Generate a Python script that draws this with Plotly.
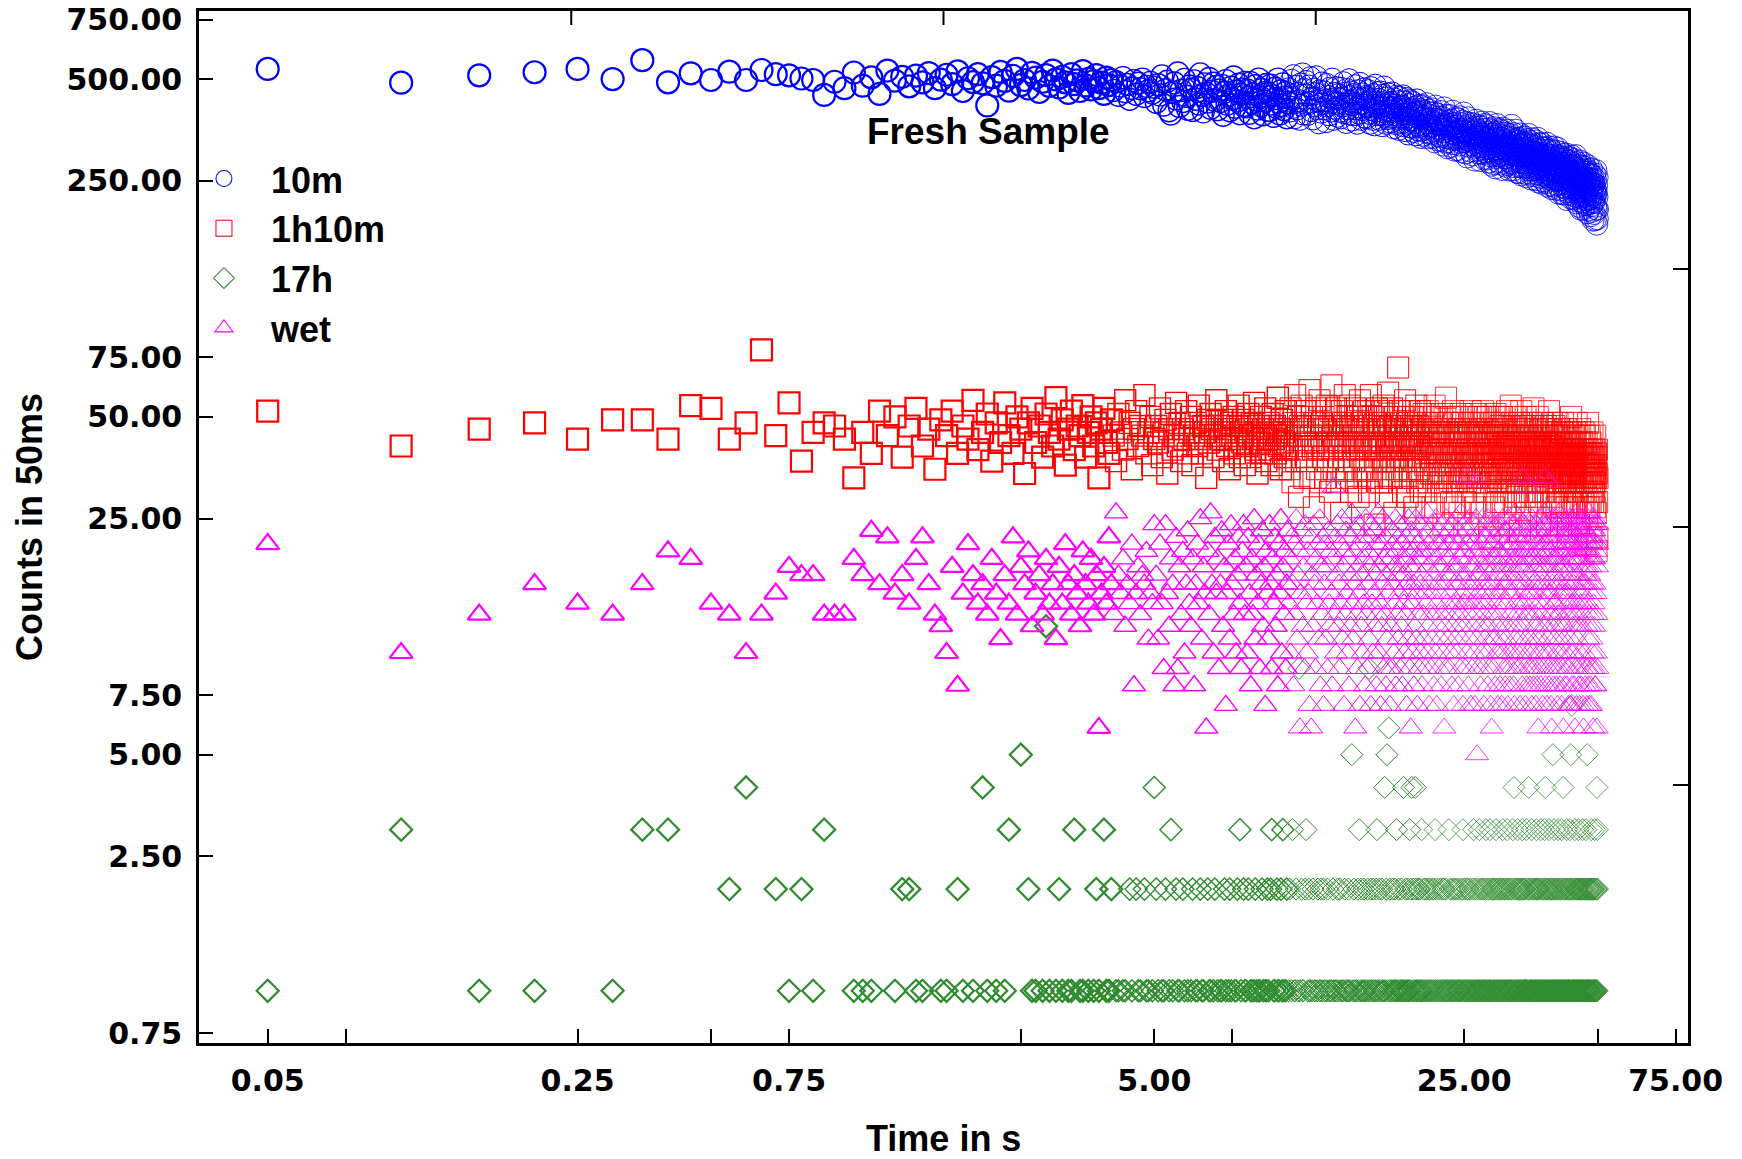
import plotly.graph_objects as go

# ---------------- data ----------------
TIME_STEP_S = 0.05  # counts are binned in 50 ms, first bin at 0.05 s

SERIES_NAMES = ["10m", "1h10m", "17h", "wet"]

COUNTS_10M = [
    536, 488, 513, 524, 536, 500, 569, 489, 520, 497, 526, 497, 532, 517, 513, 502, 497, 449, 491, 470,
    523, 478, 506, 452, 530, 495, 508, 476, 512, 489, 521, 470, 498, 515, 483, 527, 461, 503, 490, 517,
    486, 418, 507, 478, 525, 494, 462, 511, 536, 480, 497, 469, 522, 505, 458, 491, 514, 477, 530, 499,
    472, 508, 489, 455, 517, 483, 496, 461, 528, 479, 501, 466, 493, 514, 470, 488, 452, 505, 480, 497,
    463, 491, 448, 477, 505, 459, 482, 436, 470, 495, 451, 486, 468, 500, 444, 476, 462, 489, 455, 473,
    427, 481, 449, 511, 419, 465, 493, 403, 394, 457, 487, 437, 521, 415, 463, 429, 499, 445, 407, 477,
    466, 404, 494, 436, 472, 422, 518, 448, 400, 484, 454, 428, 502, 410, 460, 486, 432, 476, 406, 464,
    429, 479, 391, 457, 495, 421, 447, 403, 473, 437, 507, 413, 461, 431, 483, 395, 451, 467, 417, 489,
    414, 464, 442, 396, 488, 426, 452, 384, 478, 434, 408, 500, 444, 418, 466, 392, 456, 430, 482, 404,
    454, 404, 480, 422, 446, 388, 470, 438, 412, 500, 428, 394, 462, 418, 484, 406, 442, 456, 384, 426,
    468, 402, 438, 496, 412, 512, 384, 426, 476, 408, 454, 432, 380, 484, 418, 518, 394, 466, 424, 492,
    449, 393, 477, 427, 505, 403, 439, 381, 467, 417, 453, 508, 409, 431, 371, 461, 435, 399, 487, 423,
    408, 458, 432, 374, 482, 416, 444, 392, 470, 426, 402, 500, 436, 380, 454, 410, 472, 424, 388, 450,
    436, 402, 470, 384, 440, 416, 488, 398, 454, 422, 372, 466, 408, 444, 498, 394, 430, 458, 378, 420,
    450, 392, 424, 478, 408, 440, 370, 462, 414, 396, 486, 422, 380, 452, 406, 436, 468, 386, 418, 444,
    384, 440, 414, 462, 396, 428, 370, 472, 406, 434, 380, 450, 418, 366, 480, 402, 426, 392, 456, 412,
    436, 380, 414, 458, 392, 426, 364, 448, 400, 474, 388, 418, 370, 440, 406, 382, 452, 394, 424, 412,
    373, 427, 401, 455, 385, 411, 359, 437, 393, 419, 369, 445, 403, 381, 429, 355, 407, 441, 387, 413,
    416, 372, 402, 446, 364, 394, 428, 352, 408, 382, 438, 370, 398, 344, 420, 386, 362, 432, 378, 404,
    360, 408, 378, 426, 350, 396, 372, 414, 342, 388, 434, 366, 400, 354, 384, 418, 362, 392, 336, 406,
    401, 353, 383, 417, 341, 387, 365, 411, 349, 379, 423, 357, 393, 335, 371, 405, 347, 381, 363, 397,
    344, 390, 362, 408, 336, 374, 352, 398, 326, 370, 416, 348, 380, 358, 394, 330, 366, 386, 340, 376,
    379, 337, 367, 401, 329, 355, 385, 319, 363, 349, 411, 341, 371, 325, 357, 391, 335, 365, 313, 375,
    368, 326, 360, 390, 338, 352, 316, 378, 346, 332, 402, 358, 322, 370, 344, 308, 362, 384, 334, 350,
    331, 363, 309, 353, 381, 337, 349, 319, 387, 343, 325, 369, 305, 355, 339, 375, 327, 351, 397, 333,
    360, 326, 350, 302, 372, 336, 346, 294, 364, 330, 384, 340, 316, 354, 328, 370, 306, 348, 334, 358,
    320, 350, 298, 342, 368, 324, 338, 288, 360, 332, 314, 378, 336, 308, 354, 326, 364, 302, 344, 318,
    349, 315, 339, 287, 361, 325, 345, 301, 373, 329, 311, 355, 335, 291, 343, 321, 367, 305, 337, 317,
    348, 302, 332, 364, 290, 336, 312, 356, 284, 328, 372, 306, 342, 296, 320, 352, 278, 334, 310, 344,
    315, 345, 281, 331, 359, 299, 323, 273, 349, 309, 335, 293, 367, 317, 303, 339, 285, 327, 355, 297,
    342, 296, 326, 280, 318, 352, 306, 334, 270, 320, 300, 358, 312, 284, 330, 346, 292, 316, 338, 276,
    293, 329, 315, 345, 279, 307, 353, 287, 321, 299, 337, 269, 313, 343, 301, 325, 283, 317, 305, 365,
    323, 281, 335, 299, 269, 317, 345, 291, 311, 329, 275, 303, 353, 285, 315, 297, 333, 265, 309, 327,
    290, 320, 276, 334, 306, 264, 298, 328, 284, 344, 312, 292, 260, 318, 296, 336, 274, 310, 324, 282,
    321, 275, 307, 289, 337, 263, 299, 325, 283, 313, 257, 295, 331, 279, 305, 273, 319, 291, 343, 269,
    275, 309, 297, 263, 327, 285, 305, 253, 319, 291, 269, 333, 281, 301, 259, 313, 287, 277, 321, 303,
    304, 270, 316, 282, 252, 298, 328, 274, 292, 262, 310, 286, 334, 278, 248, 300, 272, 322, 290, 266,
    270, 302, 256, 292, 314, 280, 246, 298, 274, 322, 288, 260, 308, 278, 296, 250, 286, 312, 268, 294,
    301, 263, 289, 247, 313, 277, 293, 257, 323, 271, 285, 241, 307, 281, 261, 297, 269, 315, 253, 287,
    261, 291, 243, 281, 309, 265, 287, 237, 297, 271, 251, 305, 277, 257, 293, 241, 283, 315, 267, 253,
    288, 254, 298, 270, 236, 282, 306, 260, 274, 244, 292, 266, 312, 250, 278, 230, 296, 264, 284, 252,
    251, 283, 259, 295, 235, 271, 289, 245, 303, 263, 277, 229, 267, 293, 253, 281, 239, 273, 299, 257,
    282, 246, 272, 228, 290, 258, 264, 238, 300, 254, 276, 220, 268, 286, 242, 260, 294, 232, 270, 250,
    240, 270, 254, 286, 228, 260, 278, 244, 292, 250, 222, 266, 282, 238, 258, 296, 232, 264, 248, 276,
    267, 235, 279, 249, 221, 261, 289, 239, 255, 225, 273, 245, 297, 231, 259, 215, 269, 247, 283, 237,
    234, 264, 218, 250, 278, 240, 256, 210, 270, 244, 226, 286, 248, 232, 260, 206, 252, 268, 222, 254,
    262, 228, 252, 276, 216, 246, 234, 270, 206, 240, 282, 224, 256, 212, 248, 266, 220, 244, 232, 274,
    225, 255, 213, 243, 269, 231, 247, 201, 261, 235, 219, 277, 239, 223, 251, 205, 241, 265, 215, 245,
    253, 221, 243, 197, 261, 229, 239, 211, 271, 225, 247, 203, 235, 259, 217, 241, 191, 251, 227, 245,
    216, 244, 200, 234, 262, 224, 238, 192, 252, 228, 210, 268, 232, 206, 242, 186, 224, 256, 193, 206,
]

COUNTS_1H10M = [
    52, 41, 46, 48, 43, 49, 49, 43, 54, 53, 43, 48, 79, 44, 55, 37, 45, 48, 47, 43, 33, 45, 39, 52,
    44, 50, 38, 47, 53, 41, 46, 35, 49, 44, 52, 39, 47, 43, 56, 40,
    45, 51, 37, 48, 42, 55, 44, 39, 50, 46, 34, 48, 53, 42, 47, 38, 51, 45, 41, 57,
    43, 49, 36, 46, 52, 40, 47, 44, 54, 38, 45, 50, 41, 48, 33, 46, 53, 42, 39, 49,
    44, 37, 51, 45, 40, 56, 43, 48, 35, 46, 52, 41, 47, 44, 58, 39, 45, 50, 36, 43,
    47, 42, 53, 38, 45, 49, 34, 46, 51, 40, 44, 55, 41, 48, 37, 46, 43, 52, 39, 45,
    50, 36, 44, 48, 41, 54, 43, 39, 47, 45, 33, 49, 42, 51, 46, 38, 44, 56, 40, 47,
    43, 49, 37, 45, 52, 41, 46, 35, 48, 44, 50, 39, 43, 47, 54, 38, 45, 42, 49, 36,
    46, 41, 51, 44, 38, 48, 43, 55, 40, 45, 34, 47, 42, 50, 39, 46, 44, 53, 37, 43,
    48, 40, 45, 36, 51, 43, 47, 39, 44, 57, 41, 46, 35, 49, 42, 45, 38, 52, 44, 40,
    46, 35, 53, 41, 32, 48, 40, 58, 37, 44, 50, 29, 47, 41, 54, 38, 46, 33, 52, 42,
    37, 47, 41, 60, 33, 44, 50, 40, 27, 48, 42, 53, 35, 46, 40, 56, 32, 44, 48, 38,
    50, 41, 33, 46, 54, 37, 42, 47, 30, 52, 62, 40, 44, 35, 48, 41, 53, 32, 46, 42,
    38, 48, 44, 26, 52, 41, 35, 47, 58, 40, 46, 33, 50, 42, 37, 54, 44, 30, 48, 41,
    47, 37, 42, 53, 32, 46, 40, 50, 29, 44, 56, 38, 41, 48, 35, 46, 52, 33, 42, 40,
    35, 46, 41, 52, 30, 47, 38, 58, 42, 33, 50, 40, 44, 24, 48, 41, 37, 53, 46, 32,
    44, 38, 48, 41, 32, 52, 42, 35, 54, 46, 37, 47, 29, 41, 50, 40, 59, 33, 44, 38,
    47, 41, 33, 53, 42, 37, 46, 26, 50, 40, 44, 35, 48, 38, 70, 42, 32, 52, 41, 46,
    37, 47, 40, 30, 50, 42, 38, 56, 33, 44, 41, 48, 29, 46, 40, 52, 35, 42, 47, 38,
    44, 33, 50, 40, 46, 27, 48, 41, 37, 54, 42, 32, 47, 38, 44, 35, 52, 41, 30, 46,
    40, 33, 46, 38, 51, 30, 42, 36, 48, 39, 26, 45, 34, 52, 40, 32, 44, 50, 38, 42,
    34, 45, 39, 27, 48, 40, 33, 44, 54, 36, 42, 30, 46, 38, 50, 32, 40, 34, 45, 39,
    44, 36, 48, 32, 40, 51, 34, 42, 24, 45, 38, 46, 33, 40, 57, 36, 44, 30, 39, 48,
    38, 45, 33, 42, 36, 50, 28, 40, 46, 34, 39, 52, 32, 44, 38, 48, 27, 42, 36, 45,
    40, 32, 50, 38, 44, 34, 46, 26, 42, 39, 51, 33, 45, 36, 40, 30, 48, 38, 44, 34,
    42, 36, 46, 28, 39, 50, 33, 40, 38, 45, 24, 44, 34, 48, 39, 32, 52, 36, 42, 38,
    33, 44, 38, 48, 30, 40, 36, 46, 27, 42, 34, 51, 39, 32, 45, 38, 44, 33, 50, 40,
    45, 34, 40, 32, 48, 38, 42, 26, 46, 36, 39, 52, 33, 44, 38, 30, 50, 40, 34, 42,
    36, 46, 30, 42, 39, 50, 33, 44, 38, 22, 45, 34, 40, 48, 32, 42, 36, 46, 39, 33,
    44, 38, 48, 27, 40, 34, 45, 39, 51, 32, 42, 36, 46, 28, 39, 44, 33, 50, 38, 40,
    35, 42, 32, 47, 40, 28, 44, 36, 50, 34, 41, 38, 46, 30, 42, 35, 48, 40, 26, 44,
    38, 34, 46, 41, 52, 32, 40, 35, 44, 24, 42, 36, 47, 34, 41, 38, 54, 30, 42, 36,
    41, 32, 48, 38, 35, 44, 28, 40, 47, 36, 42, 34, 50, 29, 41, 38, 46, 35, 40, 32,
    44, 36, 30, 41, 48, 35, 40, 23, 46, 38, 42, 34, 52, 36, 41, 32, 47, 40, 35, 44,
    34, 41, 38, 47, 29, 42, 36, 50, 32, 40, 35, 46, 28, 41, 38, 48, 34, 44, 36, 40,
    42, 35, 40, 30, 47, 38, 34, 44, 41, 26, 36, 48, 40, 32, 42, 35, 53, 38, 34, 41,
    36, 46, 32, 40, 35, 42, 29, 47, 38, 34, 41, 36, 50, 30, 40, 44, 35, 28, 42, 38,
    40, 34, 44, 36, 26, 41, 35, 47, 38, 32, 42, 36, 48, 30, 40, 35, 46, 38, 34, 41,
    35, 42, 30, 40, 47, 36, 34, 41, 24, 44, 38, 35, 46, 32, 40, 36, 52, 34, 41, 38,
    42, 32, 38, 35, 46, 29, 40, 36, 48, 34, 41, 38, 30, 44, 35, 40, 28, 47, 36, 41,
    34, 42, 38, 32, 45, 36, 39, 27, 44, 34, 40, 48, 33, 38, 30, 42, 36, 46, 39, 33,
    40, 32, 36, 44, 34, 39, 24, 42, 38, 33, 45, 36, 28, 40, 34, 48, 38, 32, 39, 36,
    33, 40, 36, 30, 44, 34, 39, 46, 32, 38, 27, 42, 36, 33, 40, 22, 39, 45, 34, 38,
    39, 32, 42, 36, 28, 40, 34, 45, 38, 33, 50, 36, 30, 39, 34, 42, 26, 38, 33, 40,
    34, 44, 32, 38, 36, 27, 40, 33, 45, 36, 39, 30, 42, 34, 38, 32, 48, 36, 28, 39,
    38, 33, 40, 30, 36, 44, 34, 24, 39, 32, 42, 36, 33, 46, 38, 28, 40, 34, 39, 32,
    36, 42, 32, 39, 34, 28, 40, 33, 38, 45, 30, 36, 39, 27, 34, 44, 33, 38, 21, 40,
    33, 39, 30, 36, 42, 34, 26, 38, 32, 40, 36, 48, 28, 34, 39, 33, 38, 27, 36, 44,
    32, 38, 34, 42, 28, 36, 33, 39, 22, 34, 40, 30, 36, 45, 33, 38, 28, 34, 39, 32,
    36, 30, 40, 33, 38, 27, 34, 44, 32, 36, 26, 39, 33, 38, 20, 34, 40, 28, 22, 33,
]

# 17h counts, one hexadecimal digit per 50 ms bin (0 = no count)
COUNTS_17H_HEX = (
    "13110133002402121300111001221100110210104101013005021101c101"
    "2101130110101210311201101102102110211014"
    "21011201310211021010120110211002110120101102101210"
    "01120310211020110121011021011210230110211021310120"
    "12013011201910211023012110120110120112102110120101"
    "10211011201201011021011210105012101102130121012110"
    "10219102110210112310120102110141025106120110210121"
    "13101201012101411021012101312041021014210112012101"
    "31012102110210112012110120121301201102101021101201"
    "21012101101310210121011201021120101211011021023101"
    "12011012102110120101102131021011201101213101211021"
    "01211012131012011021131102011202110121031201121010"
    "21102101213102110201112031021101211021101213011402"
    "10211012031120121012011213021012011210113110212041"
    "02110121131021012110210112130211201102110121310102"
    "11021101321401210112012101312011021120112151021301"
    "12101120110211321011210112101311201410210121101210"
    "13012011210112131025121071102110211011312011210121"
    "10213102110112101210120132110121102101213101121512"
    "01211012011210112302101120211021013110210211204132"
)

COUNTS_WET = [
    21, 10, 13, 16, 14, 13, 16, 20, 19, 14, 13, 10, 13, 15, 18, 17, 17, 13, 13, 13, 19, 17, 23, 16,
    22, 15, 17, 14, 19, 22, 16, 13, 12, 10, 18, 8, 15, 21, 17, 14,
    16, 13, 19, 15, 11, 17, 14, 22, 13, 18, 16, 20, 12, 15, 17, 13, 19, 14, 16, 11,
    18, 14, 21, 16, 13, 17, 15, 12, 20, 16, 14, 19, 13, 17, 6, 15, 18, 14, 22, 16,
    13, 26, 17, 15, 19, 12, 16, 14, 21, 8, 15, 18, 13, 17, 16, 20, 11, 15, 14, 24,
    17, 11, 21, 14, 9, 24, 15, 12, 19, 16, 8, 22, 9, 18, 13, 20, 10, 16, 23, 14,
    12, 19, 8, 16, 21, 14, 25, 11, 18, 15, 6, 20, 13, 26, 16, 10, 22, 15, 19, 9,
    16, 23, 12, 18, 7, 15, 21, 11, 24, 16, 13, 19, 10, 17, 22, 14, 9, 20, 24, 13,
    18, 10, 22, 15, 8, 19, 13, 25, 11, 17, 14, 21, 9, 16, 23, 12, 18, 7, 20, 15,
    11, 24, 16, 9, 19, 14, 22, 12, 17, 8, 21, 15, 25, 10, 18, 13, 20, 9, 16, 23,
    14, 19, 10, 22, 16, 8, 21, 13, 25, 11, 17, 20, 6, 15, 23, 12, 18, 9, 24, 14,
    10, 20, 15, 7, 22, 6, 17, 12, 24, 16, 9, 19, 14, 21, 11, 25, 8, 18, 13, 22,
    7, 16, 21, 11, 18, 9, 23, 14, 12, 20, 15, 8, 19, 31, 13, 22, 10, 17, 24, 12,
    16, 9, 21, 14, 25, 11, 18, 7, 20, 13, 23, 15, 10, 19, 8, 22, 12, 17, 26, 14,
    11, 20, 16, 6, 23, 13, 9, 18, 24, 15, 7, 21, 12, 17, 10, 22, 14, 19, 8, 25,
    13, 9, 20, 16, 11, 22, 18, 7, 24, 14, 10, 19, 15, 23, 12, 17, 8, 21, 13, 26,
    10, 18, 14, 7, 21, 12, 25, 16, 9, 19, 13, 22, 8, 17, 11, 24, 15, 20, 9, 7,
    19, 12, 23, 9, 16, 21, 10, 18, 14, 25, 8, 20, 13, 17, 11, 22, 15, 24, 9, 18,
    12, 21, 8, 17, 24, 14, 10, 19, 13, 22, 7, 16, 20, 11, 25, 15, 9, 18, 6, 23,
    14, 10, 20, 16, 8, 22, 12, 18, 25, 11, 15, 7, 21, 13, 19, 9, 24, 16, 10, 20,
    17, 8, 22, 13, 19, 11, 24, 15, 9, 20, 14, 26, 10, 18, 12, 21, 7, 16, 23, 13,
    9, 20, 15, 11, 24, 17, 8, 22, 13, 19, 10, 25, 14, 7, 21, 16, 12, 18, 9, 23,
    15, 11, 21, 8, 18, 13, 24, 10, 20, 16, 6, 22, 12, 19, 9, 25, 14, 17, 11, 21,
    13, 19, 9, 23, 15, 10, 21, 17, 8, 24, 12, 18, 14, 7, 22, 16, 11, 20, 13, 25,
    10, 18, 14, 21, 8, 23, 16, 12, 19, 9, 26, 13, 17, 11, 22, 15, 7, 20, 14, 24,
    12, 20, 9, 17, 23, 14, 10, 21, 16, 33, 8, 19, 13, 25, 11, 18, 15, 7, 22, 14,
    9, 21, 16, 12, 24, 10, 18, 14, 7, 20, 13, 25, 11, 32, 5, 17, 22, 9, 19, 15,
    20, 12, 17, 8, 23, 14, 10, 21, 16, 25, 9, 18, 13, 7, 22, 15, 11, 24, 12, 19,
    14, 22, 10, 18, 8, 16, 25, 12, 20, 9, 17, 23, 13, 7, 21, 15, 6, 19, 11, 24,
    16, 9, 21, 13, 25, 11, 18, 8, 22, 14, 19, 10, 24, 12, 17, 7, 20, 15, 23, 10,
    13, 20, 8, 24, 15, 11, 22, 7, 18, 14, 25, 10, 19, 12, 9, 21, 16, 23, 8, 17,
    11, 23, 14, 9, 20, 16, 7, 25, 12, 18, 10, 22, 15, 8, 21, 13, 19, 24, 9, 17,
    15, 21, 10, 18, 24, 12, 8, 20, 7, 16, 26, 11, 19, 14, 22, 9, 23, 13, 17, 10,
    19, 12, 22, 9, 16, 25, 11, 20, 7, 18, 14, 24, 10, 21, 13, 8, 23, 15, 19, 33,
    12, 18, 9, 24, 14, 20, 7, 22, 16, 11, 25, 8, 31, 19, 13, 21, 10, 23, 15, 9,
    20, 13, 17, 8, 24, 15, 11, 22, 9, 19, 7, 25, 14, 10, 21, 16, 23, 8, 18, 12,
    9, 22, 13, 19, 15, 7, 24, 11, 20, 8, 23, 16, 12, 18, 6, 25, 10, 21, 14, 9,
    17, 11, 23, 8, 20, 25, 10, 19, 13, 16, 22, 7, 18, 9, 24, 12, 21, 15, 26, 33,
    14, 21, 8, 18, 12, 24, 10, 20, 7, 16, 25, 11, 19, 9, 23, 15, 8, 32, 22, 13,
    10, 20, 15, 24, 7, 18, 12, 6, 22, 16, 9, 25, 13, 21, 8, 19, 14, 23, 11, 17,
    22, 14, 9, 19, 25, 12, 8, 21, 16, 24, 10, 7, 18, 13, 23, 9, 15, 26, 11, 20,
    13, 19, 8, 23, 16, 10, 24, 12, 21, 7, 18, 15, 25, 9, 20, 14, 6, 22, 17, 11,
    18, 24, 12, 8, 21, 15, 25, 10, 19, 13, 23, 8, 16, 22, 9, 24, 14, 20, 7, 21,
    15, 9, 22, 13, 25, 17, 7, 23, 11, 7, 19, 24, 10, 21, 14, 18, 8, 25, 12, 20,
    10, 23, 16, 19, 8, 24, 13, 21, 6, 17, 25, 9, 20, 12, 22, 7, 26, 14, 19, 11,
    20, 13, 24, 9, 17, 22, 8, 21, 12, 25, 7, 19, 15, 10, 23, 14, 20, 8, 16, 24,
    12, 21, 9, 25, 15, 19, 7, 23, 13, 6, 22, 16, 10, 20, 14, 24, 18, 8, 17, 23,
    16, 9, 22, 12, 20, 7, 24, 18, 9, 14, 25, 11, 21, 8, 19, 26, 13, 17, 7, 22,
    20, 12, 18, 8, 24, 15, 7, 22, 11, 21, 9, 25, 16, 10, 19, 13, 6, 23, 14, 24,
    9, 19, 12, 23, 16, 25, 8, 21, 8, 15, 24, 10, 20, 13, 22, 6, 18, 24, 9, 21,
]

X_TICK_VALUES = [0.05, 0.075, 0.25, 0.5, 0.75, 2.5, 5, 7.5, 25, 50, 75]
X_TICK_LABELS = ["0.05", "", "0.25", "", "0.75", "", "5.00", "", "25.00", "", "75.00"]
Y_TICK_VALUES = [0.75, 2.5, 5, 7.5, 25, 50, 75, 250, 500, 750]
Y_TICK_LABELS = ["0.75", "2.50", "5.00", "7.50", "25.00", "50.00", "75.00",
                 "250.00", "500.00", "750.00"]

X_TITLE = "Time in s"
Y_TITLE = "Counts in 50ms"
NOTE_TEXT = "Fresh Sample"

# ---------------- build ----------------
counts_17h = [int(ch, 16) for ch in COUNTS_17H_HEX]
series_values = [COUNTS_10M, COUNTS_1H10M, counts_17h, COUNTS_WET]


def bin_times(values):
    return [round(TIME_STEP_S * (i + 1), 2) for i in range(len(values))]


def positive_only(values):
    return [v if v > 0 else None for v in values]


def stroke_widths(n):
    # markers are drawn with thinner strokes once they pile up densely
    out = []
    for i in range(n):
        if i < 80:
            out.append(2.2)
        elif i < 200:
            out.append(1.4)
        elif i < 400:
            out.append(1.0)
        else:
            out.append(0.8)
    return out


STYLES = [
    dict(symbol="circle-open", color="#0000ff", size=22),
    dict(symbol="square-open", color="#ff0000", size=21),
    dict(symbol="diamond-open", color="#2e8b2e", size=17),
    dict(symbol="triangle-up-open", color="#ff00ff", size=20),
]

TITLE_FONT = dict(family="Liberation Sans, Arial, sans-serif", size=36, color="black", weight="bold")
NOTE_FONT = dict(family="Liberation Sans, Arial, sans-serif", size=37, color="black", weight="bold")
TICK_FONT = dict(family="DejaVu Sans, sans-serif", size=30, color="black", weight="bold")

fig = go.Figure()
for name, vals, st in zip(SERIES_NAMES, series_values, STYLES):
    fig.add_trace(go.Scatter(
        x=bin_times(vals),
        y=positive_only(vals),
        mode="markers",
        name=name,
        marker=dict(symbol=st["symbol"], color=st["color"], size=st["size"],
                    line=dict(width=stroke_widths(len(vals)), color=st["color"])),
        showlegend=True,
    ))

axis_common = dict(
    type="log",
    automargin=False,
    showgrid=False,
    zeroline=False,
    showline=True,
    linecolor="black",
    linewidth=2.5,
    mirror=True,
    ticks="inside",
    ticklen=14,
    tickwidth=2,
    tickcolor="black",
    tickfont=TICK_FONT,
)

fig.update_xaxes(**axis_common, range=[-1.456, 1.903],
                 tickmode="array", tickvals=X_TICK_VALUES, ticktext=X_TICK_LABELS,
                 ticklabelstandoff=9)
fig.update_yaxes(**axis_common, range=[-0.1545, 2.9006],
                 tickmode="array", tickvals=Y_TICK_VALUES, ticktext=Y_TICK_LABELS,
                 ticklabelstandoff=8)

W, H = 1742, 1159
ML, MR, MT, MB = 199, 54, 11, 116
PW, PH = W - ML - MR, H - MT - MB

shapes = []
for f in (0.25, 0.5, 0.75):
    shapes.append(dict(type="line", xref="paper", yref="paper",
                       x0=f, x1=f, y0=1, y1=1 - 14 / PH,
                       line=dict(color="black", width=2)))
    shapes.append(dict(type="line", xref="paper", yref="paper",
                       x0=1, x1=1 - 15 / PW, y0=f, y1=f,
                       line=dict(color="black", width=2)))

annotations = [
    dict(text=Y_TITLE, xref="paper", yref="paper", x=0, y=0.5, xshift=-170,
         textangle=-90, showarrow=False, font=TITLE_FONT,
         xanchor="center", yanchor="middle"),
    dict(text=X_TITLE, xref="paper", yref="paper", x=0.5, y=0, yshift=-95,
         showarrow=False, font=TITLE_FONT, xanchor="center", yanchor="middle"),
    dict(text=NOTE_TEXT, xref="paper", yref="paper", x=0.530, y=0.8829,
         showarrow=False, font=NOTE_FONT, xanchor="center", yanchor="middle"),
]

fig.update_layout(
    width=W, height=H,
    margin=dict(l=ML, r=MR, t=MT, b=MB, pad=0, autoexpand=False),
    paper_bgcolor="white", plot_bgcolor="white",
    shapes=shapes,
    annotations=annotations,
    legend=dict(x=-0.0148, y=0.8667, xanchor="left", yanchor="top",
                bgcolor="rgba(0,0,0,0)", font=TITLE_FONT,
                itemsizing="trace", itemwidth=84, tracegroupgap=0),
)

fig.write_html("out.html")
